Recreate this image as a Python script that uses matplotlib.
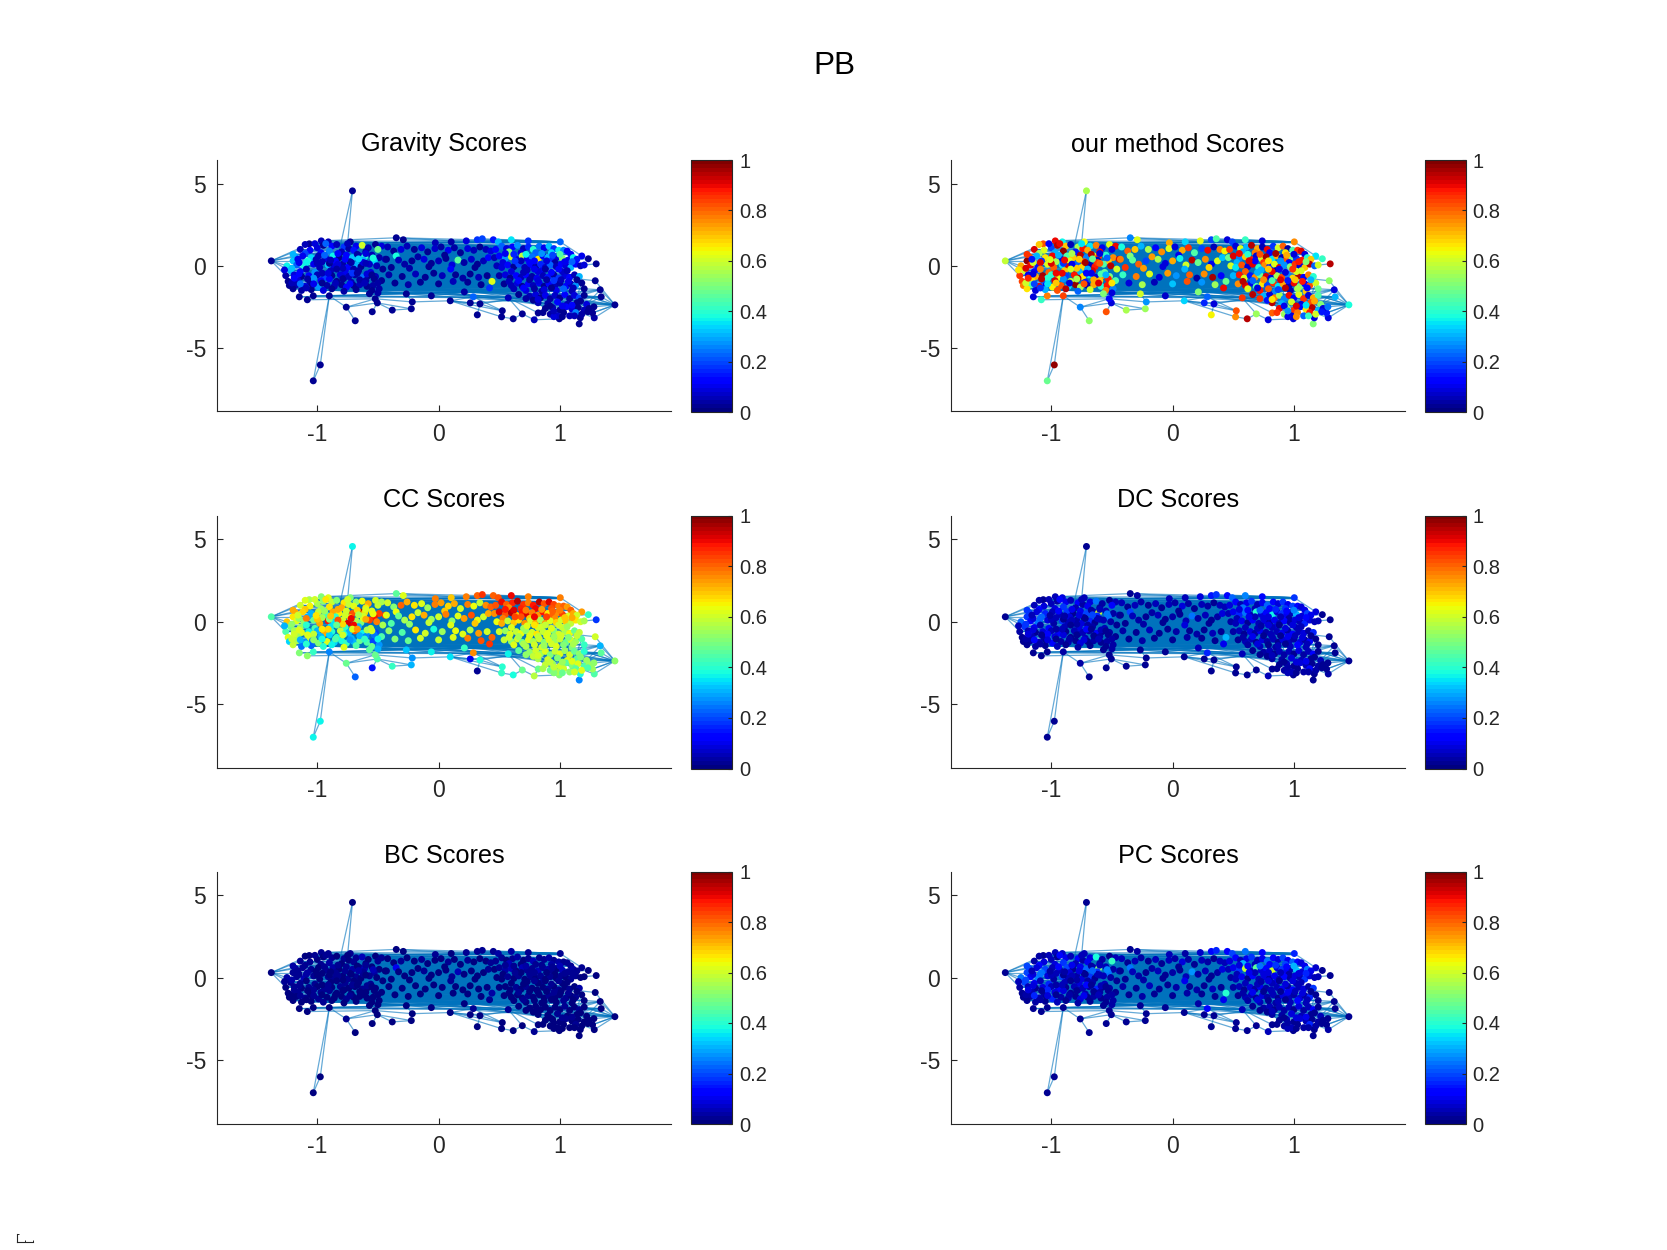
import matplotlib
matplotlib.use("Agg")
import matplotlib.pyplot as plt
from matplotlib.collections import LineCollection

W, H = 1667, 1250

# node positions (same layout in all six panels)
node_x = [
    -.71, -.975, -1.033, -1.379, 1.453, -.687, -.761, -.547, -.382, -.225, -.217, .096, .319, .341, .261, .519, .525, .615, .69, .788,
    .821, .995, 1.159, 1.283, 1.269, 1.168, 1.126, 1.34, 1.332, 1.291, 1.299, 1.234, -1.066, -.967, -.909, -.728, -.349, -.291, -.027, .104,
    .228, .319, .36, .451, .492, .599, .739, 1.003, -1.148, -1.082, -.901, -1.033, -.505, -.522, -.266, -.06, .212, .286, .574, 1.18,
    -1.14, -1.06, -1.0, -.95, -.88, -.84, -.78, -.74, -.68, -.63, -.58, -.52, -.47, -1.1, -.97, -.9, -.8, -.7, -.6, -.5,
    -1.18, -1.12, -1.05, -.99, -.93, -.87, -.82, -.76, -.71, -.65, -.61, -.55, -.49, -1.2, -1.08, -.96, -.85, -.73, -.62, -.53,
    -1.25, -1.17, -1.11, -1.03, -.98, -.91, -.86, -.79, -.75, -.68, -.64, -.57, -.51, -1.22, -1.14, -1.02, -.89, -.77, -.66, -.56,
    -1.26, -1.19, -1.13, -1.07, -1.0, -.94, -.88, -.81, -.74, -.69, -.63, -.58, -.52, -1.24, -1.16, -1.06, -.97, -.84, -.72, -.6,
    -1.23, -1.17, -1.1, -1.04, -.99, -.92, -.86, -.8, -.76, -.7, -.65, -.59, -.54, -1.2, -1.13, -1.05, -.95, -.88, -.78, -.68,
    -1.1, -1.02, -.93, -.83, -.75, -.67, -.6, -.55, -.49, -.47, -1.15, -1.0, -.9, -.79, -.7, -.62, -.57, -.5, -.46, -.44,
    -.42, -.37, -.31, -.26, -.2, -.14, -.09, -.03, .02, .08, .13, .18, .24, .29, .34, .39, .43, -.35, -.17, .05,
    -.43, -.33, -.28, -.22, -.12, -.06, 0, .06, .11, .16, .21, .27, .32, .37, .41, -.39, -.24, -.08, .1, .3,
    -.41, -.3, -.19, -.11, -.04, .03, .14, .2, .26, .33, .4, .44, -.36, -.25, -.15, .0, .12, .24, .35, .42,
    .47, .52, .56, .61, .65, .7, .74, .78, .83, .87, .91, .95, .99, 1.03, 1.06, .58, .68, .8, .93, 1.09,
    .46, .5, .55, .6, .64, .69, .73, .77, .82, .86, .9, .94, .98, 1.02, 1.07, 1.11, 1.14, .53, .75, .96,
    .48, .52, .57, .62, .66, .71, .76, .8, .84, .88, .92, .97, 1.01, 1.05, 1.09, 1.13, 1.17, 1.2, .6, .85,
    .5, .55, .59, .64, .68, .72, .77, .81, .86, .9, .95, .99, 1.04, 1.08, 1.12, 1.16, .7, .82, .93, 1.02,
    .54, .6, .65, .69, .74, .78, .83, .87, .91, .96, 1.0, 1.05, 1.09, 1.13, 1.18, .72, .85, .97, 1.1, 1.2,
    .66, .75, .8, .84, .88, .92, .96, 1.0, 1.04, 1.08, 1.12, 1.16, 1.2, .82, .9, .98, 1.06, 1.14, 1.22, .78,
    .88, .94, 1.0, 1.05, 1.1, 1.15, 1.2, 1.24, .92, .98, 1.03, 1.08, 1.13, 1.18, 1.23, .86, .95, 1.02, 1.12, 1.28,
    -1.2, -1.16, -1.09, -1.01, -.94, -.89, -.83, -.77, -.72, -.66, -.6, -.54, -1.27, -1.21, -1.15, -1.09, -1.03, -.96, -.9, -.84,
    -.78, -.71, -.65, -.59, -.53, -1.21, -1.14, -1.08, -1.03, -.96, -.91, -.85, -.79, -.73, -.67, -.61, -.55, -.5, -1.19, -1.09,
    .55, .62, .68, .72, .79, .85, .89, .94, 1.0, 1.04, 1.1, .63, .73, .79, .88, .99, 1.06, .58, .66, .75,
    .82, .89, .95, 1.01, 1.07, 1.14, .62, .7, .79, .87, .93, 1.03, 1.11, .72, .82, .92, 1.02, 1.1, 1.17, .95,
]
node_y = [
    4.57, -6.04, -7.01, .3, -2.38, -3.35, -2.52, -2.8, -2.7, -2.62, -2.2, -2.13, -2.99, -2.32, -2.26, -3.11, -2.74, -3.23, -2.93, -3.29,
    -2.87, -3.23, -3.54, -3.17, -2.87, -3.17, -2.95, -1.89, -1.46, -.91, .12, .43, 1.34, 1.52, 1.46, 1.46, 1.71, 1.59, 1.4, 1.46,
    1.52, 1.59, 1.65, 1.59, 1.46, 1.59, 1.52, 1.46, -1.89, -2.07, -1.83, -1.83, -2.26, -2.01, -1.71, -1.83, -1.59, -1.89, -1.95, .6,
    1.0, .95, 1.1, 1.25, 1.2, 1.3, 1.15, 1.05, 1.2, 1.25, 1.1, 1.3, 1.2, .75, .8, .9, .85, .95, .85, 1.0,
    .55, .6, .5, .6, .45, .6, .5, .65, .5, .6, .55, .65, .5, .3, .3, .25, .3, .25, .35, .3,
    0, .05, -.05, .1, -.1, .05, -.05, .1, -.1, .05, -.05, .1, 0, -.3, -.35, -.4, -.3, -.35, -.3, -.4,
    -.6, -.55, -.65, -.6, -.55, -.7, -.6, -.55, -.65, -.55, -.7, -.6, -.65, -.95, -.9, -1.0, -.9, -.95, -1.0, -.9,
    -1.2, -1.15, -1.25, -1.15, -1.3, -1.2, -1.25, -1.15, -1.3, -1.2, -1.15, -1.25, -1.2, -1.4, -1.5, -1.45, -1.5, -1.4, -1.55, -1.45,
    1.3, 1.35, 1.35, .75, 1.35, .7, .75, -1.5, -1.4, -.9, .2, .15, .15, -.15, -.2, .2, -1.7, -1.65, -.2, .4,
    1.15, .9, 1.0, 1.2, 1.0, 1.1, .85, 1.05, 1.15, .95, 1.1, .8, 1.05, .95, 1.15, 1.0, .9, .6, .55, .65,
    .4, .35, .1, .3, .4, .15, .3, .45, .05, .35, .2, .4, .1, .3, .5, -.1, -.15, -.05, -.2, -.1,
    -.55, -.65, -.5, -.7, -.45, -.6, -.55, -.75, -.5, -.7, -.6, -.95, -1.05, -1.15, -1.0, -1.1, -.95, -1.0, -1.15, -1.35,
    1.0, 1.2, 1.05, 1.15, 1.25, 1.05, 1.15, 1.0, 1.2, 1.1, 1.2, 1.05, .95, .95, .9, .85, .8, .8, .8, .7,
    .5, .6, .45, .55, .4, .6, .45, .55, .4, .6, .5, .4, .55, .45, .35, .5, .4, .2, .2, .2,
    0, -.1, .05, -.05, .1, -.1, .05, -.05, .1, -.1, .05, -.05, .1, 0, -.1, .1, 0, .05, -.35, -.3,
    -.6, -.55, -.75, -.6, -.7, -.55, -.65, -.75, -.6, -.7, -.55, -.75, -.6, -.7, -.55, -.65, -.4, -.35, -.4, -.35,
    -1.1, -1.2, -1.05, -1.25, -1.1, -1.2, -1.05, -1.25, -1.1, -1.2, -1.05, -1.25, -1.1, -1.2, -1.05, -1.5, -1.55, -1.5, -1.55, -1.4,
    -1.75, -1.85, -1.75, -1.95, -1.8, -2.0, -1.8, -1.95, -1.75, -2.0, -1.8, -1.95, -1.8, -2.25, -2.3, -2.2, -2.35, -2.25, -2.35, -2.1,
    -2.6, -2.55, -2.7, -2.5, -2.65, -2.55, -2.7, -2.6, -2.95, -3.05, -2.85, -3.05, -2.85, -2.95, -2.8, -2.85, -3.1, -3.1, -3.05, -2.5,
    .7, .4, .2, .38, .65, .35, .1, .4, .2, .42, .15, .48, -.25, -.15, -.5, -.2, -.75, -.45, -.8, -.2,
    -.75, -.45, -.85, -.5, -.8, -1.05, -1.1, -.8, -1.1, -1.05, -.45, -1.05, -.8, -1.1, -.45, -1.05, -.55, -1.05, -.75, -1.35,
    .75, .7, .3, .7, .3, .75, .3, .65, .7, .25, .25, .3, -.25, -.2, -.2, -.2, -.3, -.95, -.9, -.85,
    -.9, -.85, -.9, -.85, -.95, -.85, -1.4, -1.35, -1.4, -1.45, -1.35, -1.4, -1.35, -2.0, -2.05, -2.45, -2.45, -2.4, -2.15, -2.75,
]

# scores in percent, one list per panel, same node order
gravity_scores = [
    2, 2, 2, 2, 2, 2, 3, 2, 2, 2, 2, 2, 2, 3, 2, 3, 2, 2, 2, 6,
    2, 2, 2, 4, 3, 2, 2, 2, 2, 2, 3, 3, 2, 5, 6, 3, 2, 3, 5, 4,
    8, 18, 20, 15, 30, 35, 18, 22, 2, 2, 3, 2, 2, 2, 3, 3, 4, 22, 6, 10,
    5, 12, 8, 3, 14, 6, 18, 4, 10, 60, 5, 3, 8, 20, 12, 25, 6, 15, 4, 48,
    28, 10, 34, 5, 8, 36, 3, 14, 32, 9, 40, 6, 4, 32, 38, 5, 12, 3, 30, 34,
    36, 22, 38, 10, 5, 32, 8, 4, 12, 30, 3, 7, 5, 30, 14, 28, 6, 10, 4, 8,
    4, 8, 3, 12, 5, 20, 3, 9, 6, 4, 24, 3, 5, 3, 9, 4, 12, 3, 6, 4,
    3, 5, 8, 3, 28, 4, 6, 3, 14, 3, 5, 3, 4, 2, 4, 3, 8, 3, 4, 3,
    5, 9, 22, 14, 6, 4, 8, 3, 4, 3, 10, 6, 3, 5, 4, 8, 3, 4, 3, 6,
    6, 3, 9, 5, 3, 8, 3, 7, 4, 10, 4, 3, 8, 5, 3, 6, 9, 38, 4, 3,
    3, 6, 4, 3, 8, 3, 5, 3, 9, 46, 4, 7, 3, 5, 12, 3, 4, 3, 14, 3,
    4, 3, 6, 3, 3, 5, 3, 4, 3, 6, 3, 62, 3, 4, 2, 3, 5, 3, 3, 18,
    12, 22, 8, 14, 28, 6, 16, 40, 24, 10, 32, 18, 36, 26, 12, 50, 8, 22, 34, 14,
    6, 14, 28, 60, 9, 58, 10, 24, 66, 12, 30, 16, 8, 50, 10, 36, 15, 8, 12, 4,
    5, 9, 14, 3, 20, 6, 11, 4, 16, 7, 22, 5, 12, 8, 30, 14, 6, 9, 8, 10,
    4, 8, 3, 12, 5, 14, 4, 10, 6, 15, 4, 18, 8, 12, 5, 30, 6, 9, 14, 7,
    3, 6, 9, 3, 12, 5, 10, 3, 14, 6, 4, 12, 5, 28, 3, 8, 4, 10, 6, 3,
    3, 5, 8, 3, 10, 4, 7, 3, 12, 4, 8, 20, 3, 5, 4, 14, 6, 3, 8, 3,
    3, 6, 3, 12, 8, 3, 5, 3, 4, 7, 3, 5, 26, 4, 3, 3, 8, 3, 5, 3,
    30, 10, 36, 6, 22, 5, 8, 12, 4, 34, 6, 38, 8, 32, 14, 6, 28, 5, 12, 4,
    6, 18, 4, 8, 3, 5, 24, 4, 10, 3, 8, 5, 3, 14, 4, 6, 3, 4, 12, 5,
    10, 16, 6, 36, 12, 28, 8, 20, 44, 10, 22, 18, 5, 10, 4, 12, 6, 5, 14, 4,
    9, 4, 18, 6, 10, 3, 5, 12, 4, 8, 3, 22, 6, 4, 8, 3, 10, 14, 3, 5,
]
ours_scores = [
    55, 97, 47, 58, 38, 52, 25, 82, 56, 54, 28, 34, 65, 8, 16, 76, 82, 94, 54, 9,
    80, 9, 50, 8, 15, 8, 62, 30, 8, 52, 95, 42, 82, 90, 36, 64, 26, 62, 72, 34,
    62, 20, 45, 8, 20, 42, 8, 76, 8, 42, 84, 78, 8, 14, 60, 7, 50, 22, 85, 35,
    92, 62, 20, 95, 70, 5, 55, 88, 35, 78, 10, 62, 90, 55, 30, 98, 15, 72, 90, 8,
    80, 30, 66, 90, 10, 45, 70, 94, 25, 62, 85, 40, 76, 98, 18, 55, 62, 82, 6, 70,
    72, 90, 15, 62, 80, 35, 92, 22, 68, 5, 88, 45, 95, 60, 12, 80, 70, 30, 92, 48,
    85, 10, 72, 96, 40, 62, 20, 88, 66, 35, 8, 76, 50, 84, 66, 22, 92, 58, 15, 70,
    78, 45, 90, 10, 65, 82, 35, 98, 55, 6, 72, 40, 88, 66, 8, 30, 82, 94, 22, 60,
    70, 12, 90, 55, 35, 94, 8, 78, 25, 45, 60, 92, 18, 70, 30, 85, 50, 8, 60, 92,
    38, 80, 70, 30, 55, 12, 76, 62, 8, 72, 85, 44, 20, 90, 6, 78, 65, 50, 74, 10,
    78, 46, 80, 20, 55, 8, 72, 36, 60, 95, 48, 76, 10, 62, 32, 85, 74, 8, 30, 68,
    42, 78, 62, 8, 74, 28, 80, 4, 76, 96, 12, 48, 8, 55, 5, 32, 82, 28, 54, 90,
    85, 8, 62, 30, 95, 72, 5, 90, 18, 60, 80, 4, 45, 85, 92, 30, 78, 12, 66, 8,
    48, 92, 25, 70, 88, 8, 60, 96, 35, 72, 5, 82, 50, 18, 88, 40, 70, 30, 85, 12,
    60, 35, 82, 8, 92, 40, 75, 16, 62, 90, 28, 50, 85, 8, 70, 95, 22, 60, 80, 6,
    30, 88, 62, 15, 76, 48, 92, 8, 55, 84, 25, 68, 95, 12, 78, 40, 30, 90, 8, 62,
    75, 92, 10, 45, 66, 20, 85, 35, 72, 5, 90, 50, 14, 82, 60, 88, 25, 6, 70, 48,
    94, 30, 8, 78, 55, 25, 90, 12, 62, 85, 8, 72, 45, 94, 30, 60, 9, 82, 50, 15,
    90, 52, 85, 14, 66, 95, 30, 8, 54, 8, 78, 22, 88, 60, 15, 85, 10, 75, 42, 24,
    85, 15, 92, 62, 30, 90, 10, 70, 96, 48, 80, 22, 66, 92, 8, 78, 40, 90, 28, 60,
    95, 12, 72, 45, 88, 60, 20, 94, 35, 70, 90, 8, 55, 82, 10, 92, 30, 66, 86, 18,
    90, 40, 12, 82, 66, 96, 28, 72, 8, 88, 50, 92, 30, 70, 10, 85, 60, 94, 22, 76,
    45, 92, 15, 70, 88, 30, 62, 8, 80, 20, 94, 55, 12, 85, 66, 10, 92, 35, 72, 28,
]
cc_scores = [
    37, 37, 37, 45, 52, 22, 47, 15, 42, 30, 28, 35, 2, 38, 10, 42, 40, 38, 47, 57,
    48, 50, 25, 44, 54, 40, 60, 46, 30, 60, 18, 42, 55, 50, 62, 50, 46, 62, 78, 70,
    78, 80, 85, 80, 82, 90, 78, 78, 50, 52, 26, 42, 44, 48, 32, 36, 42, 75, 36, 74,
    60, 65, 55, 52, 58, 50, 66, 58, 52, 64, 72, 60, 56, 70, 54, 66, 72, 62, 66, 58,
    72, 68, 30, 58, 42, 72, 65, 60, 82, 94, 68, 62, 84, 66, 30, 55, 42, 70, 60, 88,
    70, 62, 52, 48, 72, 88, 35, 60, 92, 55, 50, 84, 78, 48, 52, 45, 35, 42, 30, 58,
    44, 55, 62, 36, 30, 72, 40, 58, 30, 80, 36, 28, 20, 62, 54, 58, 30, 40, 30, 26,
    34, 56, 28, 24, 50, 62, 34, 38, 42, 30, 48, 44, 20, 58, 24, 22, 40, 36, 62, 44,
    62, 60, 66, 72, 60, 68, 62, 48, 28, 44, 52, 70, 50, 68, 90, 62, 46, 30, 56, 84,
    60, 50, 80, 72, 66, 62, 54, 78, 74, 68, 72, 60, 78, 64, 58, 76, 80, 64, 58, 70,
    62, 48, 55, 66, 72, 54, 60, 78, 52, 62, 74, 82, 64, 60, 72, 44, 52, 58, 62, 70,
    52, 44, 66, 60, 38, 54, 64, 62, 56, 74, 60, 80, 50, 48, 60, 58, 62, 78, 82, 85,
    82, 90, 80, 86, 94, 85, 78, 88, 95, 82, 92, 84, 78, 80, 74, 76, 86, 90, 82, 80,
    76, 92, 82, 95, 70, 88, 92, 78, 74, 88, 66, 80, 76, 84, 62, 72, 60, 78, 70, 76,
    64, 72, 58, 70, 66, 76, 60, 72, 56, 74, 62, 68, 60, 70, 58, 66, 60, 56, 62, 60,
    60, 54, 62, 58, 64, 52, 60, 66, 58, 62, 50, 60, 56, 64, 48, 58, 54, 60, 62, 58,
    58, 52, 60, 48, 62, 56, 60, 50, 62, 54, 58, 48, 60, 54, 44, 55, 60, 62, 50, 42,
    46, 52, 60, 54, 62, 50, 58, 62, 54, 60, 48, 52, 40, 56, 60, 50, 62, 46, 54, 58,
    58, 52, 60, 46, 50, 62, 44, 54, 48, 56, 60, 52, 46, 62, 44, 56, 50, 48, 60, 52,
    72, 60, 78, 66, 54, 70, 82, 60, 90, 56, 72, 64, 30, 52, 62, 40, 58, 66, 34, 48,
    40, 62, 30, 56, 24, 58, 30, 62, 52, 38, 68, 44, 60, 28, 74, 42, 60, 36, 60, 40,
    88, 92, 82, 78, 90, 74, 84, 80, 78, 70, 72, 84, 62, 66, 58, 60, 54, 60, 56, 62,
    58, 62, 54, 60, 50, 58, 62, 56, 60, 54, 60, 50, 56, 52, 60, 58, 54, 62, 50, 58,
]
dc_scores = [
    2, 2, 2, 3, 3, 2, 4, 2, 2, 2, 2, 3, 2, 3, 3, 3, 2, 2, 2, 6,
    3, 3, 2, 4, 3, 3, 2, 3, 2, 3, 3, 3, 3, 6, 8, 6, 3, 4, 6, 5,
    8, 15, 18, 14, 22, 26, 14, 18, 2, 2, 4, 3, 2, 2, 3, 3, 5, 16, 6, 8,
    5, 8, 6, 4, 10, 5, 12, 4, 8, 24, 4, 3, 6, 14, 8, 18, 5, 10, 4, 14,
    20, 8, 16, 5, 6, 18, 3, 10, 20, 6, 60, 5, 4, 18, 22, 5, 8, 3, 16, 24,
    22, 14, 24, 8, 4, 18, 6, 4, 8, 16, 3, 6, 4, 18, 10, 14, 5, 8, 4, 6,
    4, 6, 3, 8, 5, 12, 3, 6, 5, 4, 14, 3, 4, 3, 6, 4, 8, 3, 5, 4,
    3, 4, 6, 3, 14, 4, 5, 3, 8, 3, 4, 3, 4, 2, 4, 3, 6, 3, 4, 3,
    4, 6, 12, 10, 5, 4, 6, 3, 4, 3, 8, 5, 3, 4, 4, 6, 3, 4, 3, 5,
    5, 3, 6, 4, 3, 6, 3, 5, 4, 8, 4, 3, 6, 4, 3, 5, 6, 20, 4, 3,
    3, 5, 4, 3, 6, 3, 4, 3, 6, 24, 4, 5, 3, 4, 8, 3, 4, 3, 8, 3,
    4, 3, 5, 3, 3, 4, 3, 4, 3, 5, 3, 30, 3, 4, 2, 3, 4, 3, 3, 10,
    8, 14, 6, 10, 18, 5, 10, 22, 14, 8, 18, 10, 20, 14, 8, 24, 6, 14, 18, 10,
    5, 10, 16, 24, 6, 40, 8, 14, 36, 8, 18, 10, 6, 30, 8, 20, 10, 6, 8, 4,
    4, 6, 10, 3, 12, 5, 8, 4, 10, 5, 14, 4, 8, 6, 16, 8, 5, 6, 6, 8,
    4, 6, 3, 8, 4, 10, 4, 6, 5, 10, 4, 12, 6, 8, 4, 16, 5, 6, 8, 5,
    3, 5, 6, 3, 8, 4, 6, 3, 8, 5, 4, 8, 4, 14, 3, 6, 4, 6, 5, 3,
    3, 4, 6, 3, 6, 4, 5, 3, 8, 4, 6, 12, 3, 4, 4, 8, 5, 3, 6, 3,
    3, 5, 3, 8, 6, 3, 4, 3, 4, 5, 3, 4, 14, 4, 3, 3, 6, 3, 4, 3,
    18, 6, 22, 4, 12, 4, 6, 8, 3, 20, 5, 24, 6, 18, 8, 5, 14, 4, 8, 3,
    5, 12, 3, 6, 3, 4, 14, 3, 8, 3, 6, 4, 3, 8, 3, 5, 3, 4, 8, 4,
    8, 12, 5, 22, 8, 16, 6, 12, 26, 8, 14, 10, 4, 8, 3, 8, 5, 4, 10, 3,
    6, 3, 10, 5, 8, 3, 4, 8, 3, 6, 3, 12, 5, 3, 6, 3, 8, 10, 3, 4,
]
bc_scores = [
    1, 1, 1, 1, 1, 1, 2, 1, 1, 1, 1, 1, 1, 1, 1, 1, 1, 1, 1, 2,
    1, 1, 1, 1, 1, 1, 1, 1, 1, 1, 1, 1, 1, 2, 2, 2, 1, 1, 2, 1,
    2, 3, 3, 2, 4, 4, 3, 3, 1, 1, 1, 1, 1, 1, 1, 1, 1, 3, 2, 2,
    2, 2, 1, 1, 3, 1, 3, 1, 2, 5, 1, 1, 2, 3, 2, 4, 1, 2, 1, 3,
    4, 2, 3, 1, 2, 4, 1, 2, 4, 2, 6, 1, 1, 3, 4, 1, 2, 1, 3, 4,
    4, 3, 5, 2, 1, 3, 2, 1, 2, 3, 1, 2, 1, 3, 2, 3, 1, 2, 1, 2,
    1, 2, 1, 2, 1, 2, 1, 2, 1, 1, 3, 1, 1, 1, 2, 1, 2, 1, 1, 1,
    1, 1, 2, 1, 3, 1, 1, 1, 2, 1, 1, 1, 1, 1, 1, 1, 2, 1, 1, 1,
    1, 2, 3, 2, 1, 1, 2, 1, 1, 1, 2, 1, 1, 1, 1, 2, 1, 1, 1, 1,
    1, 1, 2, 1, 1, 2, 1, 1, 1, 2, 1, 1, 2, 1, 1, 1, 2, 10, 1, 1,
    1, 1, 1, 1, 2, 1, 1, 1, 2, 5, 1, 1, 1, 1, 2, 1, 1, 1, 2, 1,
    1, 1, 1, 1, 1, 1, 1, 1, 1, 1, 1, 4, 1, 1, 1, 1, 1, 1, 1, 2,
    2, 3, 1, 2, 4, 1, 2, 5, 3, 2, 4, 2, 4, 3, 2, 6, 1, 3, 4, 2,
    1, 2, 4, 6, 1, 5, 2, 3, 6, 2, 4, 2, 1, 5, 2, 4, 2, 1, 2, 1,
    1, 1, 2, 1, 3, 1, 2, 1, 2, 1, 3, 1, 2, 1, 3, 2, 1, 1, 1, 2,
    1, 1, 1, 2, 1, 2, 1, 1, 1, 2, 1, 3, 1, 2, 1, 4, 1, 1, 2, 1,
    1, 1, 1, 1, 2, 1, 1, 1, 2, 1, 1, 2, 1, 3, 1, 1, 1, 1, 1, 1,
    1, 1, 1, 1, 1, 1, 1, 1, 2, 1, 1, 3, 1, 1, 1, 2, 1, 1, 1, 1,
    1, 1, 1, 2, 1, 1, 1, 1, 1, 1, 1, 1, 3, 1, 1, 1, 1, 1, 1, 1,
    4, 2, 4, 1, 3, 1, 2, 2, 1, 4, 1, 5, 2, 4, 2, 1, 3, 1, 2, 1,
    1, 2, 1, 2, 1, 1, 3, 1, 2, 1, 2, 1, 1, 2, 1, 1, 1, 1, 2, 1,
    2, 3, 1, 4, 2, 3, 1, 2, 5, 2, 3, 2, 1, 2, 1, 2, 1, 1, 2, 1,
    1, 1, 2, 1, 2, 1, 1, 2, 1, 1, 1, 3, 1, 1, 1, 1, 2, 2, 1, 1,
]
pc_scores = [
    2, 2, 2, 3, 3, 2, 3, 2, 2, 2, 2, 3, 2, 3, 3, 3, 2, 2, 2, 5,
    3, 3, 2, 4, 3, 3, 2, 3, 2, 3, 3, 3, 3, 6, 7, 5, 3, 4, 5, 4,
    7, 14, 16, 12, 20, 24, 12, 16, 2, 2, 3, 3, 2, 2, 3, 3, 4, 14, 5, 7,
    4, 8, 6, 3, 10, 5, 12, 4, 8, 38, 4, 3, 6, 14, 8, 18, 5, 10, 4, 42,
    20, 8, 20, 5, 6, 20, 3, 10, 22, 6, 50, 5, 4, 20, 24, 5, 8, 3, 18, 24,
    24, 14, 26, 8, 4, 20, 6, 4, 8, 18, 3, 6, 4, 20, 10, 16, 5, 8, 4, 6,
    4, 6, 3, 8, 5, 12, 3, 6, 5, 4, 16, 3, 4, 3, 6, 4, 8, 3, 5, 4,
    3, 4, 6, 3, 16, 4, 5, 3, 8, 3, 4, 3, 4, 2, 4, 3, 6, 3, 4, 3,
    4, 6, 14, 10, 5, 4, 6, 3, 4, 3, 8, 5, 3, 4, 4, 6, 3, 4, 3, 5,
    5, 3, 6, 4, 3, 6, 3, 5, 4, 8, 4, 3, 6, 4, 3, 5, 6, 24, 4, 3,
    3, 5, 4, 3, 6, 3, 4, 3, 6, 28, 4, 5, 3, 4, 8, 3, 4, 3, 10, 3,
    4, 3, 5, 3, 3, 4, 3, 4, 3, 5, 3, 40, 3, 4, 2, 3, 4, 3, 3, 10,
    8, 14, 6, 10, 18, 5, 10, 24, 14, 8, 20, 10, 22, 14, 8, 30, 6, 14, 20, 10,
    5, 10, 18, 58, 6, 46, 8, 14, 60, 8, 18, 10, 6, 32, 8, 24, 10, 6, 8, 4,
    4, 6, 10, 3, 12, 5, 8, 4, 10, 5, 14, 4, 8, 6, 18, 8, 5, 6, 6, 8,
    4, 6, 3, 8, 4, 10, 4, 6, 5, 10, 4, 12, 6, 8, 4, 18, 5, 6, 8, 5,
    3, 5, 6, 3, 8, 4, 6, 3, 8, 5, 4, 8, 4, 16, 3, 6, 4, 6, 5, 3,
    3, 4, 6, 3, 6, 4, 5, 3, 8, 4, 6, 12, 3, 4, 4, 8, 5, 3, 6, 3,
    3, 5, 3, 8, 6, 3, 4, 3, 4, 5, 3, 4, 16, 4, 3, 3, 6, 3, 4, 3,
    20, 6, 24, 4, 14, 4, 6, 8, 3, 22, 5, 26, 6, 20, 8, 5, 16, 4, 8, 3,
    5, 14, 3, 6, 3, 4, 16, 3, 8, 3, 6, 4, 3, 10, 3, 5, 3, 4, 8, 4,
    8, 14, 5, 24, 8, 18, 6, 14, 30, 8, 16, 10, 4, 8, 3, 8, 5, 4, 10, 3,
    6, 3, 10, 5, 8, 3, 4, 8, 3, 6, 3, 14, 5, 3, 6, 3, 8, 10, 3, 4,
]

# graph edges as node index pairs
edge_a = [
    3, 3, 3, 3, 3, 3, 3, 3, 32, 33, 34, 35, 36, 36, 37, 38, 39, 40, 41, 42,
    43, 44, 45, 46, 33, 34, 35, 36, 32, 32, 48, 49, 50, 51, 50, 48, 51, 6, 6, 6,
    5, 0, 0, 1, 2, 2, 7, 8, 9, 10, 11, 57, 13, 14, 52, 53, 54, 55, 56, 58,
    4, 4, 4, 4, 4, 4, 4, 4, 4, 4, 27, 28, 29, 30, 31, 59, 24, 23, 22, 25,
    15, 16, 17, 18, 19, 20, 21, 12, 13, 57, 58, 58, 58, 58, 11, 11, 56, 57, 13, 14,
    60, 61, 62, 63, 64, 65, 66, 67, 68, 69, 70, 71, 72, 73, 74, 75, 76, 77, 78, 79,
    80, 81, 82, 83, 84, 85, 86, 87, 88, 89, 90, 91, 92, 93, 94, 95, 96, 97, 98, 99,
    100, 101, 102, 103, 104, 105, 106, 107, 108, 109, 110, 111, 112, 113, 114, 115, 116, 117, 118, 119,
    120, 121, 122, 123, 124, 125, 126, 127, 128, 129, 130, 131, 132, 133, 134, 135, 136, 137, 138, 139,
    140, 141, 142, 143, 144, 145, 146, 147, 148, 149, 150, 151, 152, 153, 154, 155, 156, 157, 158, 159,
    60, 62, 64, 66, 68, 70, 72, 74, 76, 78, 80, 82, 84, 86, 88, 90, 92, 94, 96, 98,
    81, 83, 85, 87, 89, 91, 93, 95, 97, 99, 100, 102, 104, 106, 108, 110, 112, 114, 116, 118,
    101, 103, 105, 107, 109, 111, 113, 115, 117, 119, 120, 122, 124, 126, 128, 130, 132, 134, 136, 138,
    121, 123, 125, 127, 129, 131, 133, 135, 137, 139, 140, 142, 144, 146, 148, 150, 152, 154, 156, 158,
    141, 143, 145, 147, 149, 151, 153, 155, 157, 159, 160, 161, 162, 164, 173, 174, 167, 168, 176, 177,
    153, 154, 155, 156, 157, 158, 159, 176, 177, 168, 167, 169, 178, 179, 163, 165, 166, 172, 171, 170,
    340, 341, 342, 343, 344, 345, 346, 347, 348, 349, 350, 351, 352, 353, 354, 355, 356, 357, 358, 359,
    360, 361, 362, 363, 364, 365, 366, 367, 368, 369, 370, 371, 372, 373, 374, 375, 376, 377, 378, 379,
    320, 322, 324, 326, 328, 330, 332, 334, 335, 336, 337, 338, 339, 180, 185, 190, 200, 210, 222, 230,
    380, 381, 382, 383, 384, 385, 386, 387, 388, 389, 390, 391, 392, 393, 394, 395, 396, 397, 398, 399,
    400, 401, 402, 403, 404, 405, 406, 407, 408, 409, 410, 411, 412, 413, 414, 415, 416, 417, 418, 419,
    380, 383, 386, 389, 392, 395, 398, 401, 404, 407, 410, 413, 416, 419, 382, 385, 388, 391, 394, 397,
    61, 63, 65, 67, 69, 71, 73, 75, 77, 79, 60, 64, 68, 72, 76, 163, 165, 166, 160, 161,
    141, 144, 147, 150, 153, 156, 159, 142, 145, 148, 151, 154, 157, 176, 177, 168, 167, 169, 178, 149,
    121, 124, 127, 130, 133, 136, 139, 122, 125, 128, 131, 134, 137, 126, 129, 132, 135, 138, 120, 123,
    100, 103, 106, 109, 112, 115, 118, 101, 104, 107, 110, 113, 116, 119, 102, 105, 108, 111, 114, 117,
    180, 182, 184, 186, 188, 190, 192, 194, 196, 198, 200, 202, 204, 206, 208, 210, 212, 214, 216, 218,
    220, 222, 224, 226, 228, 230, 232, 234, 236, 238, 181, 183, 185, 187, 189, 191, 193, 195, 197, 199,
    201, 203, 205, 207, 209, 211, 213, 215, 217, 219, 221, 223, 225, 227, 229, 231, 233, 235, 237, 239,
]
edge_b = [
    32, 80, 93, 100, 113, 120, 60, 73, 47, 47, 47, 47, 47, 33, 47, 47, 47, 47, 47, 47,
    47, 47, 47, 47, 246, 259, 244, 250, 253, 46, 58, 53, 58, 57, 56, 56, 54, 50, 52, 53,
    6, 50, 164, 50, 1, 50, 52, 52, 8, 54, 10, 11, 11, 11, 9, 10, 55, 56, 57, 340,
    27, 28, 29, 23, 24, 346, 352, 358, 359, 379, 358, 339, 298, 297, 277, 47, 4, 24, 25, 22,
    16, 15, 15, 17, 18, 19, 19, 13, 16, 16, 18, 20, 359, 361, 15, 16, 340, 345, 341, 347,
    247, 250, 243, 256, 241, 248, 253, 245, 258, 242, 251, 246, 255, 240, 252, 244, 257, 249, 254, 259,
    265, 270, 262, 276, 261, 268, 273, 264, 278, 263, 271, 266, 275, 260, 272, 267, 277, 269, 274, 279,
    284, 290, 282, 296, 281, 288, 293, 285, 298, 283, 291, 286, 295, 280, 292, 287, 299, 289, 294, 297,
    304, 310, 302, 316, 301, 308, 313, 305, 318, 303, 311, 306, 315, 300, 312, 307, 319, 309, 314, 317,
    324, 330, 322, 336, 321, 328, 333, 325, 338, 323, 331, 326, 335, 320, 332, 327, 339, 329, 334, 337,
    262, 266, 270, 274, 278, 261, 265, 269, 273, 277, 244, 248, 252, 256, 241, 245, 249, 253, 257, 242,
    282, 286, 290, 294, 298, 281, 285, 289, 293, 297, 263, 267, 271, 275, 279, 262, 268, 272, 276, 264,
    302, 306, 310, 314, 318, 301, 305, 309, 313, 317, 283, 287, 291, 295, 299, 282, 288, 292, 296, 284,
    322, 326, 330, 334, 338, 321, 325, 329, 333, 337, 303, 307, 311, 315, 319, 302, 308, 312, 316, 304,
    342, 346, 350, 354, 358, 341, 345, 349, 353, 335, 246, 250, 244, 258, 266, 270, 252, 242, 336, 338,
    337, 339, 335, 334, 338, 336, 333, 337, 338, 334, 335, 56, 283, 262, 248, 243, 249, 254, 255, 318,
    4, 28, 359, 23, 27, 28, 361, 4, 27, 28, 358, 27, 4, 358, 27, 379, 24, 4, 28, 27,
    341, 343, 345, 347, 349, 351, 353, 355, 357, 359, 340, 342, 344, 346, 348, 350, 352, 354, 356, 358,
    361, 363, 365, 367, 368, 369, 370, 371, 372, 373, 374, 375, 376, 290, 302, 265, 325, 286, 331, 318,
    425, 430, 422, 436, 421, 428, 433, 424, 438, 423, 431, 426, 435, 420, 432, 427, 437, 429, 434, 439,
    445, 450, 442, 456, 441, 448, 453, 444, 447, 443, 451, 446, 455, 440, 452, 449, 454, 322, 328, 335,
    244, 262, 284, 270, 300, 288, 305, 311, 320, 301, 330, 338, 317, 325, 250, 268, 291, 275, 296, 286,
    303, 309, 315, 306, 312, 318, 301, 304, 310, 316, 322, 326, 335, 328, 331, 252, 246, 243, 259, 248,
    266, 272, 278, 261, 283, 289, 295, 264, 270, 276, 291, 297, 284, 260, 274, 287, 263, 281, 268, 299,
    247, 252, 241, 258, 250, 244, 255, 266, 271, 262, 277, 288, 282, 294, 279, 265, 286, 292, 243, 259,
    341, 343, 347, 320, 325, 331, 337, 302, 309, 314, 319, 306, 339, 338, 334, 327, 322, 336, 333, 329,
    140, 101, 62, 143, 124, 85, 106, 147, 128, 89, 150, 111, 92, 153, 114, 75, 136, 97, 158, 119,
    250, 284, 300, 262, 326, 270, 292, 244, 318, 278, 252, 296, 304, 264, 332, 286, 247, 310, 274, 338,
    120, 141, 82, 103, 64, 145, 86, 127, 148, 69, 130, 91, 152, 73, 114, 155, 96, 137, 118, 159,
]

panel_titles = ["Gravity Scores", "our method Scores", "CC Scores", "DC Scores", "BC Scores", "PC Scores"]
panel_scores = [gravity_scores, ours_scores, cc_scores, dc_scores, bc_scores, pc_scores]
x_ticks = [-1, 0, 1]
y_ticks = [-5, 0, 5]
cbar_ticks = [0, 0.2, 0.4, 0.6, 0.8, 1]
cbar_labels = ["0", "0.2", "0.4", "0.6", "0.8", "1"]

plt.rcParams["font.family"] = ["Liberation Sans", "DejaVu Sans"]
plt.rcParams["axes.unicode_minus"] = False
dark = "#262626"


def px_axes(fig, left, top, right, bottom):
    return fig.add_axes([left / W, 1 - bottom / H, (right - left) / W, (bottom - top) / H])


fig = plt.figure(figsize=(W / 100, H / 100), dpi=100)
fig.text(834 / W, 1 - 66 / H, "PB", fontsize=22.7, ha="center", va="center", color="black")

segments = [[(node_x[a], node_y[a]), (node_x[b], node_y[b])] for a, b in zip(edge_a, edge_b)]
col_left = [217.3, 951.3]
cb_left = [691, 1424.5]
row_top = [160.5, 516, 872]
row_bottom = [411.5, 768, 1123.5]
jet = plt.get_cmap("jet", 64)

for i, (title, scores) in enumerate(zip(panel_titles, panel_scores)):
    col = i % 2
    row = i // 2
    ax = px_axes(fig, col_left[col], row_top[row], col_left[col] + 453.4, row_bottom[row])
    ax.add_collection(LineCollection(segments, colors="#0072bd", linewidths=0.9, alpha=0.6, zorder=1))
    n = min(len(node_x), len(node_y), len(scores))
    sc = ax.scatter(node_x[:n], node_y[:n], c=[v / 100 for v in scores[:n]], cmap=jet, vmin=0, vmax=1,
                    s=25, linewidths=0, zorder=2)
    ax.set_xlim(-1.824, 1.913)
    ax.set_ylim(-8.88, 6.42)
    ax.set_xticks(x_ticks)
    ax.set_yticks(y_ticks)
    ax.tick_params(direction="in", length=4, width=0.8, colors=dark, labelsize=16.5, pad=8)
    ax.spines["top"].set_visible(False)
    ax.spines["right"].set_visible(False)
    for side in ["left", "bottom"]:
        ax.spines[side].set_linewidth(0.8)
        ax.spines[side].set_color(dark)
    fig.text((col_left[col] + 226.7) / W, 1 - (row_top[row] - 16) / H, title, fontsize=18.2,
             ha="center", va="center", color="black")

    cax = px_axes(fig, cb_left[col], row_top[row] - 0.5, cb_left[col] + 41.3, row_bottom[row] + 0.5)
    cb = fig.colorbar(sc, cax=cax)
    cb.set_ticks(cbar_ticks)
    cb.set_ticklabels(cbar_labels)
    cb.ax.tick_params(direction="in", length=3, width=0.8, colors=dark, labelsize=14.5, pad=5)
    cb.outline.set_linewidth(0.8)
    cb.outline.set_edgecolor(dark)

# leftover empty axes in the bottom left corner
tiny = px_axes(fig, 16.5, 1234, 32.5, 1241.5)
tiny.set_xlim(0, 1)
tiny.set_ylim(0, 1)
tiny.set_xticks([0, 0.5, 1])
tiny.set_yticks([0, 1])
tiny.set_xticklabels([])
tiny.set_yticklabels([])
tiny.tick_params(direction="in", length=1.5, width=0.7, colors=dark)
tiny.spines["top"].set_visible(False)
tiny.spines["right"].set_visible(False)
tiny.spines["left"].set_color(dark)
tiny.spines["bottom"].set_color(dark)

fig.savefig("out.png", dpi=100)
